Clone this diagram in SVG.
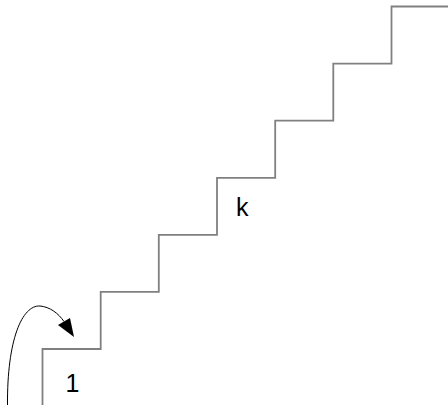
<svg xmlns="http://www.w3.org/2000/svg" width="448" height="405" viewBox="0 0 448 405">
  <style>
    .stair { fill: none; stroke: #808080; stroke-width: 1.8; }
    .curve { fill: none; stroke: #000; stroke-width: 1; }
    .label { font-family: "Liberation Sans", Arial, Helvetica, sans-serif; font-size: 25px; fill: #000; }
  </style>
  <rect width="448" height="405" fill="#fff"/>
  <g id="connectors">
    <!-- staircase outline -->
    <path class="stair" d="M42.5,405 V349 H100.7 V291.9 H158.8 V234.8 H217 V177.8 H275.2 V120.7 H333.3 V63.6 H391.5 V6.5 H448"/>
    <!-- climbing arrow onto the first step -->
    <path class="curve" d="M7.5,405 C7,340 22,305 40,306 C50,307 58,313 64,321.5"/>
    <polygon points="74,337 58,325 70,318" fill="#000"/>
  </g>
  <g id="step-1">
    <text class="label" x="65.5" y="391.5">1</text>
  </g>
  <g id="step-k">
    <text class="label" x="236" y="215.7">k</text>
  </g>
</svg>
